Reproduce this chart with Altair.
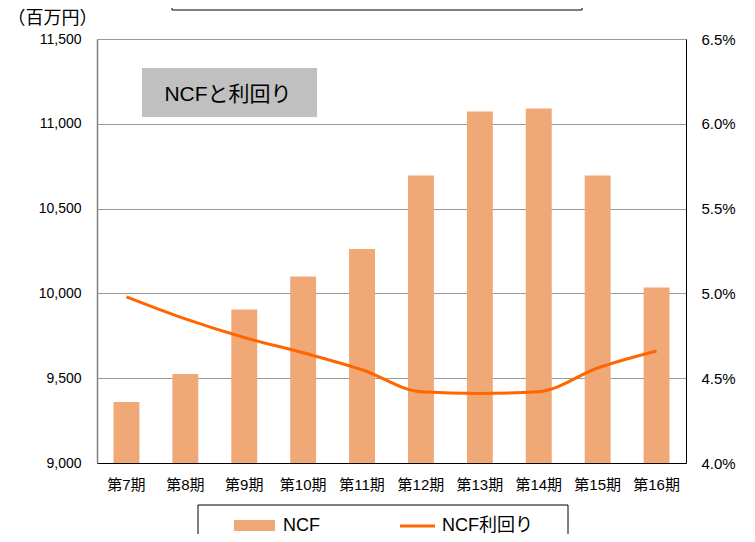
import altair as alt
import pandas as pd

periods = ["第7期", "第8期", "第9期", "第10期", "第11期", "第12期", "第13期", "第14期", "第15期", "第16期"]
ncf = [9360, 9525, 9905, 10100, 10262, 10695, 11072, 11090, 10695, 10035]
ncf_yield_pct = [4.98, 4.85, 4.74, 4.65, 4.55, 4.42, 4.41, 4.42, 4.56, 4.66]
left_ticks = [9000, 9500, 10000, 10500, 11000, 11500]
right_ticks = [0.040, 0.045, 0.050, 0.055, 0.060, 0.065]

FONT = "Liberation Sans, Noto Sans CJK JP"
BAR_COLOR = "#F0A877"
LINE_COLOR = "#FF6600"

df = pd.DataFrame({
    "period": periods,
    "ncf": ncf,
    "yield": [v / 100 for v in ncf_yield_pct],
})

x_enc = alt.X(
    "period:N", sort=periods, title=None,
    scale=alt.Scale(paddingInner=0.56, paddingOuter=0.28),
    axis=alt.Axis(labelAngle=0, labelFontSize=15, labelColor="black", labelPadding=14,
                  ticks=False, domainColor="black", domainWidth=1, labelFont=FONT),
)

bars = alt.Chart(df).mark_bar(color=BAR_COLOR).encode(
    x=x_enc,
    y=alt.Y(
        "ncf:Q",
        scale=alt.Scale(domain=[9000, 11500], nice=False, zero=False),
        axis=alt.Axis(values=left_ticks, format=",.0f", labelFontSize=14, labelColor="black",
                      labelPadding=16, ticks=False, grid=True, gridColor="#999999",
                      gridWidth=1, domainColor="#808080", domainWidth=1.5,
                      title="（百万円）", titleAngle=0, titleX=-45, titleY=-21,
                      titleAlign="center", titleBaseline="middle", titleFontSize=18,
                      titleFontWeight="normal", titleColor="black", labelFont=FONT,
                      titleFont=FONT),
    ),
    y2=alt.datum(9000),
)

line = alt.Chart(df).mark_line(color=LINE_COLOR, strokeWidth=3, interpolate="monotone").encode(
    x=alt.X("period:N", sort=periods, bandPosition=0.5),
    y=alt.Y(
        "yield:Q",
        scale=alt.Scale(domain=[0.04, 0.065], nice=False, zero=False),
        axis=alt.Axis(values=right_ticks, format=".1%", orient="right", labelFontSize=15,
                      labelColor="black", labelPadding=15, ticks=False, grid=False,
                      domainColor="black", domainWidth=1, title=None, labelFont=FONT),
    ),
)

one = pd.DataFrame({"t": ["NCFと利回り"]})

top_box = alt.Chart(one).mark_rect(fill="white", stroke="black", strokeWidth=1).encode(
    x=alt.value(75), x2=alt.value(485), y=alt.value(-60), y2=alt.value(-29)
)

title_box = alt.Chart(one).mark_rect(fill="#C0C0C0").encode(
    x=alt.value(45), x2=alt.value(220), y=alt.value(29), y2=alt.value(78)
)
title_text = alt.Chart(one).mark_text(fontSize=21, font=FONT, color="black",
                                       align="center", baseline="middle").encode(
    x=alt.value(131), y=alt.value(56), text="t:N"
)

leg_df = pd.DataFrame({"a": ["NCF"], "b": ["NCF利回り"]})
leg_box = alt.Chart(leg_df).mark_rect(fill="white", stroke="black", strokeWidth=1).encode(
    x=alt.value(101), x2=alt.value(471), y=alt.value(466), y2=alt.value(540)
)
leg_swatch = alt.Chart(leg_df).mark_rect(fill=BAR_COLOR).encode(
    x=alt.value(137), x2=alt.value(178), y=alt.value(481), y2=alt.value(492)
)
leg_text1 = alt.Chart(leg_df).mark_text(fontSize=18, font=FONT, color="black",
                                         align="left", baseline="middle").encode(
    x=alt.value(186), y=alt.value(487), text="a:N"
)
leg_line = alt.Chart(leg_df).mark_rule(color=LINE_COLOR, strokeWidth=3).encode(
    x=alt.value(303), x2=alt.value(338), y=alt.value(487)
)
leg_text2 = alt.Chart(leg_df).mark_text(fontSize=18, font=FONT, color="black",
                                         align="left", baseline="middle").encode(
    x=alt.value(345), y=alt.value(487), text="b:N"
)

chart = alt.layer(
    bars, line, top_box, title_box, title_text,
    leg_box, leg_swatch, leg_text1, leg_line, leg_text2,
).resolve_scale(
    y="independent"
).properties(
    width=589, height=424,
    autosize=alt.AutoSizeParams(type="none"),
    padding={"left": 89, "top": 31, "right": 61, "bottom": 71},
).configure_view(
    stroke=None
).configure(
    font=FONT
)

chart.save("out.html", embed_options={"renderer": "svg", "actions": False})
